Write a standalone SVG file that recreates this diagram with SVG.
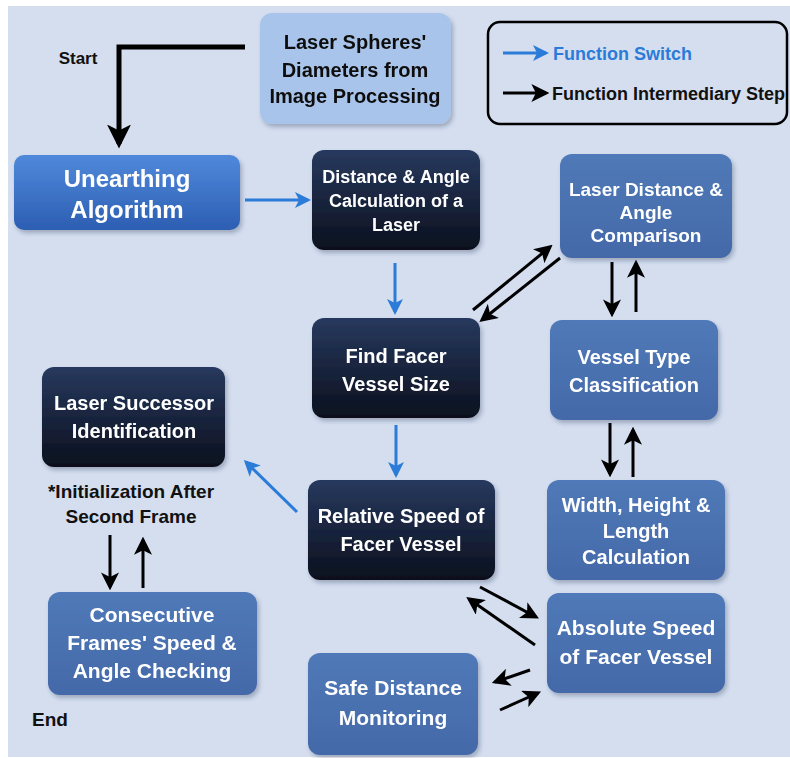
<svg xmlns="http://www.w3.org/2000/svg" width="790" height="758" viewBox="0 0 790 758">
<defs>
<style>
.t{font-family:"Liberation Sans",Arial,sans-serif;font-weight:bold;text-anchor:middle}
.w{fill:#ffffff}
.k{fill:#111111}
.mid{fill:url(#gMid)}
.dark{fill:url(#gDark)}
.bk{stroke:#000000;stroke-width:3;fill:none;marker-end:url(#aBk)}
.bl{stroke:#2b7bd8;stroke-width:3;fill:none;marker-end:url(#aBl)}
</style>
<linearGradient id="gMid" x1="0" y1="0" x2="0" y2="1"><stop offset="0" stop-color="#5079b8"/><stop offset="1" stop-color="#4469a8"/></linearGradient>
<linearGradient id="gDark" x1="0" y1="0" x2="0" y2="1"><stop offset="0" stop-color="#27395e"/><stop offset="1" stop-color="#0b101d"/></linearGradient>
<linearGradient id="gUn" x1="0" y1="0" x2="0" y2="1"><stop offset="0" stop-color="#5089db"/><stop offset="1" stop-color="#2c5eb2"/></linearGradient>
<filter id="sh" x="-10%" y="-10%" width="130%" height="130%"><feDropShadow dx="2" dy="3" stdDeviation="2" flood-color="#1a2a50" flood-opacity="0.3"/></filter>
<marker id="aBk" viewBox="0 0 16 16" refX="13" refY="8" markerWidth="18" markerHeight="18" markerUnits="userSpaceOnUse" orient="auto"><path d="M0,0 L16,8 L0,16 L4,8 z" fill="#000000"/></marker>
<marker id="aBl" viewBox="0 0 16 16" refX="13" refY="8" markerWidth="16" markerHeight="16" markerUnits="userSpaceOnUse" orient="auto"><path d="M0,0 L16,8 L0,16 L4,8 z" fill="#2b7bd8"/></marker>
<marker id="aStart" viewBox="0 0 16 16" refX="13" refY="8" markerWidth="24" markerHeight="24" markerUnits="userSpaceOnUse" orient="auto"><path d="M0,0 L16,8 L0,16 L4,8 z" fill="#000000"/></marker>
</defs>
<rect x="0" y="0" width="790" height="758" fill="#ffffff"/>
<rect x="8" y="6" width="782" height="751" fill="#d4deef"/>

<g id="legend">
<rect x="488" y="22" width="299" height="102" rx="12" fill="none" stroke="#000000" stroke-width="2.5"/>
<line x1="503" y1="53" x2="546" y2="53" class="bl"/>
<line x1="503" y1="93" x2="546" y2="93" class="bk"/>
<text x="553" y="60" class="t" style="text-anchor:start;font-size:18px;fill:#2b7bd8">Function Switch</text>
<text x="552" y="100" class="t" style="text-anchor:start;font-size:18px;fill:#111">Function Intermediary Step</text>
</g>

<g id="labels">
<text x="78" y="64" class="t k" style="font-size:17px">Start</text>
<text x="50" y="726" class="t k" style="font-size:19px">End</text>
<text x="131" y="498" class="t k" style="font-size:19px">*Initialization After</text>
<text x="131" y="523" class="t k" style="font-size:19px">Second Frame</text>
</g>

<g id="connectors">
<polyline points="245,47 119,47 119,144" stroke="#000" stroke-width="5" fill="none" marker-end="url(#aStart)"/>
<line x1="245" y1="200" x2="308" y2="200" class="bl"/>
<line x1="395" y1="263" x2="395" y2="312" class="bl"/>
<line x1="396" y1="425" x2="396" y2="475" class="bl"/>
<line x1="297" y1="512" x2="246" y2="462" class="bl"/>
<line x1="473" y1="310" x2="550" y2="247" class="bk"/>
<line x1="560" y1="258" x2="482" y2="320" class="bk"/>
<line x1="612" y1="262" x2="612" y2="314" class="bk"/>
<line x1="636" y1="312" x2="636" y2="263" class="bk"/>
<line x1="610" y1="423" x2="610" y2="474" class="bk"/>
<line x1="633" y1="477" x2="633" y2="430" class="bk"/>
<line x1="480" y1="587" x2="536" y2="617" class="bk"/>
<line x1="535" y1="645" x2="469" y2="599" class="bk"/>
<line x1="530" y1="670" x2="495" y2="682" class="bk"/>
<line x1="500" y1="710" x2="538" y2="693" class="bk"/>
<line x1="110" y1="535" x2="110" y2="587" class="bk"/>
<line x1="143" y1="588" x2="143" y2="540" class="bk"/>
</g>

<g id="spheres" filter="url(#sh)">
<rect x="260" y="13" width="191" height="111" rx="12" fill="#a9c4ea"/>
<text x="355" y="49" class="t k" style="font-size:20px">Laser Spheres'</text>
<text x="355" y="77" class="t k" style="font-size:20px">Diameters from</text>
<text x="355" y="103" class="t k" style="font-size:20px">Image Processing</text>
</g>

<g id="unearthing" filter="url(#sh)">
<rect x="14" y="155" width="226" height="75" rx="10" fill="url(#gUn)"/>
<text x="127" y="187" class="t w" style="font-size:24px">Unearthing</text>
<text x="127" y="218" class="t w" style="font-size:24px">Algorithm</text>
</g>

<g id="distance" filter="url(#sh)">
<rect x="312" y="150" width="168" height="100" rx="12" class="dark"/>
<text x="396" y="183" class="t w" style="font-size:18px">Distance &amp; Angle</text>
<text x="396" y="207" class="t w" style="font-size:18px">Calculation of a</text>
<text x="396" y="231" class="t w" style="font-size:18px">Laser</text>
</g>

<g id="comparison" filter="url(#sh)">
<rect x="560" y="154" width="172" height="104" rx="12" class="mid"/>
<text x="646" y="196" class="t w" style="font-size:19px">Laser Distance &amp;</text>
<text x="646" y="219" class="t w" style="font-size:19px">Angle</text>
<text x="646" y="242" class="t w" style="font-size:19px">Comparison</text>
</g>

<g id="find" filter="url(#sh)">
<rect x="312" y="318" width="168" height="100" rx="12" class="dark"/>
<text x="396" y="363" class="t w" style="font-size:20px">Find Facer</text>
<text x="396" y="391" class="t w" style="font-size:20px">Vessel Size</text>
</g>

<g id="vesseltype" filter="url(#sh)">
<rect x="550" y="320" width="168" height="100" rx="12" class="mid"/>
<text x="634" y="364" class="t w" style="font-size:20px">Vessel Type</text>
<text x="634" y="392" class="t w" style="font-size:20px">Classification</text>
</g>

<g id="successor" filter="url(#sh)">
<rect x="42" y="367" width="183" height="100" rx="12" class="dark"/>
<text x="134" y="410" class="t w" style="font-size:20px">Laser Successor</text>
<text x="134" y="438" class="t w" style="font-size:20px">Identification</text>
</g>

<g id="relative" filter="url(#sh)">
<rect x="308" y="480" width="187" height="100" rx="12" class="dark"/>
<text x="401" y="523" class="t w" style="font-size:20px">Relative Speed of</text>
<text x="401" y="551" class="t w" style="font-size:20px">Facer Vessel</text>
</g>

<g id="dimensions" filter="url(#sh)">
<rect x="547" y="480" width="178" height="100" rx="12" class="mid"/>
<text x="636" y="512" class="t w" style="font-size:20px">Width, Height &amp;</text>
<text x="636" y="538" class="t w" style="font-size:20px">Length</text>
<text x="636" y="564" class="t w" style="font-size:20px">Calculation</text>
</g>

<g id="absolute" filter="url(#sh)">
<rect x="547" y="593" width="178" height="100" rx="12" class="mid"/>
<text x="636" y="635" class="t w" style="font-size:21px">Absolute Speed</text>
<text x="636" y="664" class="t w" style="font-size:21px">of Facer Vessel</text>
</g>

<g id="consecutive" filter="url(#sh)">
<rect x="48" y="592" width="209" height="103" rx="12" class="mid"/>
<text x="152" y="622" class="t w" style="font-size:21px">Consecutive</text>
<text x="152" y="650" class="t w" style="font-size:21px">Frames' Speed &amp;</text>
<text x="152" y="678" class="t w" style="font-size:21px">Angle Checking</text>
</g>

<g id="safe" filter="url(#sh)">
<rect x="308" y="653" width="170" height="102" rx="12" class="mid"/>
<text x="393" y="695" class="t w" style="font-size:21px">Safe Distance</text>
<text x="393" y="725" class="t w" style="font-size:21px">Monitoring</text>
</g>
</svg>
